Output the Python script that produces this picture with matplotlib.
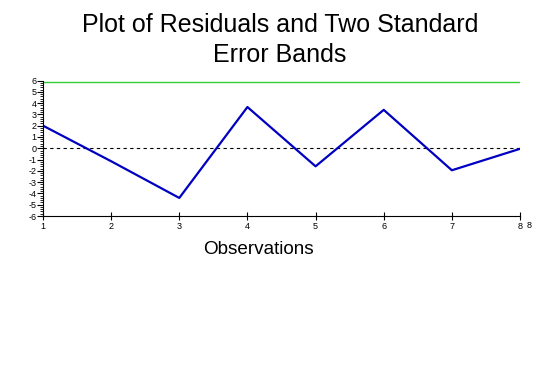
import numpy as np
import matplotlib.pyplot as plt
from matplotlib.ticker import MultipleLocator

plt.rcParams['font.family'] = ['Liberation Sans', 'DejaVu Sans']
plt.rcParams['axes.unicode_minus'] = False

# ── Data ─────────────────────────────────────────────────────────────────────
observations = [1, 2, 3, 4, 5, 6, 7, 8]
residuals = [2.0, -1.15, -4.4, 3.65, -1.6, 3.4, -1.95, -0.05]
upper_band = 5.9

# ── Plot ─────────────────────────────────────────────────────────────────────
fig = plt.figure(figsize=(5.6, 3.76), dpi=100)
ax = fig.add_axes([43 / 560, 1 - 216 / 376, (520 - 43) / 560, (216 - 80.5) / 376])

ax.axhline(0, color="black", linestyle=(0, (3, 3)), linewidth=0.8)
ax.axhline(upper_band, color="#33cc33", linewidth=1.0)
ax.plot(observations, residuals, color="#0000c0", linewidth=1.6)

ax.set_xlim(1, 8)
ax.set_ylim(-6, 6)
ax.set_xticks(observations)
ax.set_yticks(np.arange(-6, 7, 1))
ax.yaxis.set_minor_locator(MultipleLocator(0.2))
ax.spines["top"].set_visible(False)
ax.spines["right"].set_visible(False)
ax.tick_params(axis="x", direction="inout", length=6, labelsize=6.5, pad=1)
ax.tick_params(axis="y", direction="out", length=4, labelsize=6.5, pad=0.5)
ax.tick_params(axis="y", which="minor", direction="out", length=2)
ax.text(8.1, -6.4, "8", fontsize=6.5, va="top", ha="left")

fig.text(0.5, 1 - 25 / 376, "Plot of Residuals and Two Standard",
         ha="center", va="center", fontsize=18)
fig.text(0.5, 1 - 55 / 376, "Error Bands",
         ha="center", va="center", fontsize=18)
fig.text(258 / 560, 1 - 250 / 376, "Observations", ha="center", va="center", fontsize=13.6)

fig.savefig("out.png", dpi=100, facecolor="white")
